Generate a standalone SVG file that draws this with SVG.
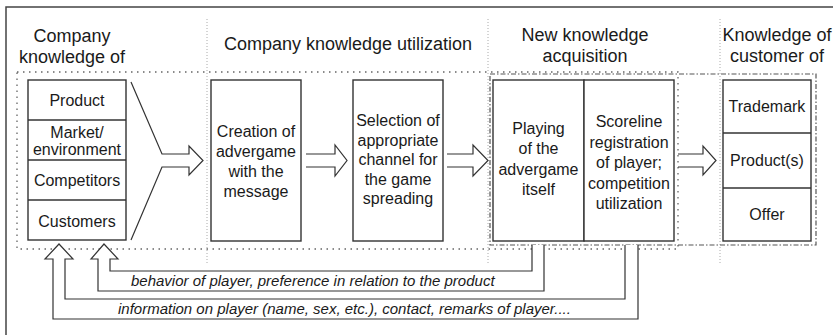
<svg xmlns="http://www.w3.org/2000/svg" width="833" height="335" viewBox="0 0 833 335">
  <style>
    .frame { fill: none; stroke: #444; stroke-width: 1.5; }
    .col { fill: none; stroke: #aaa; stroke-width: 1; stroke-dasharray: 1 2; }
    .dot { fill: none; stroke: #666; stroke-width: 1.3; stroke-dasharray: 1.5 4.5; }
    .dashdot { fill: none; stroke: #555; stroke-width: 1.2; stroke-dasharray: 5 2 1.5 2; }
    .box { fill: #fff; stroke: #333; stroke-width: 1.4; }
    .div { stroke: #333; stroke-width: 1.4; }
    .arrow { fill: #fff; stroke: #333; stroke-width: 1.2; stroke-linejoin: miter; }
    .open { fill: none; stroke: #333; stroke-width: 1.2; }
    .head { font-family: "Liberation Sans", Arial, sans-serif; font-size: 18px; fill: #1a1a1a; text-anchor: middle; }
    .lbl { font-family: "Liberation Sans", Arial, sans-serif; font-size: 16px; fill: #1a1a1a; text-anchor: middle; }
    .note { font-family: "Liberation Sans", Arial, sans-serif; font-size: 15px; font-style: italic; fill: #1a1a1a; }
  </style>

  <rect width="833" height="335" fill="#fff"/>
  <!-- outer frame -->
  <rect class="frame" x="6" y="7" width="900" height="400"/>

  <!-- column separators -->
  <g id="columns">
    <line class="col" x1="207" y1="19" x2="207" y2="265"/>
    <line class="col" x1="488" y1="19" x2="488" y2="265"/>
    <line class="col" x1="720" y1="19" x2="720" y2="265"/>
  </g>

  <!-- column headings -->
  <g id="headings">
    <text class="head" x="72" y="42">Company</text>
    <text class="head" x="72" y="63">knowledge of</text>
    <text class="head" x="348" y="50">Company knowledge utilization</text>
    <text class="head" x="585" y="41">New knowledge</text>
    <text class="head" x="585" y="62">acquisition</text>
    <text class="head" x="777" y="41">Knowledge of</text>
    <text class="head" x="777" y="62">customer of</text>
  </g>

  <!-- grouping frames -->
  <g id="frames">
    <rect class="dot" x="17" y="72" width="661" height="177"/>
    <rect class="dashdot" x="490" y="74" width="326" height="171"/>
  </g>

  <!-- company knowledge -->
  <g id="company-knowledge">
    <rect class="box" x="28" y="80" width="98" height="160"/>
    <line class="div" x1="28" y1="120" x2="126" y2="120"/>
    <line class="div" x1="28" y1="160" x2="126" y2="160"/>
    <line class="div" x1="28" y1="200" x2="126" y2="200"/>
    <text class="lbl" x="77" y="106">Product</text>
    <text class="lbl" x="77" y="138">Market/</text>
    <text class="lbl" x="77" y="155">environment</text>
    <text class="lbl" x="77" y="186">Competitors</text>
    <text class="lbl" x="77" y="226.5">Customers</text>
  </g>

  <!-- creation of advergame -->
  <g id="creation">
    <rect class="box" x="211" y="80" width="90" height="161"/>
    <text class="lbl" x="256" y="136.5">Creation of</text>
    <text class="lbl" x="256" y="156.5">advergame</text>
    <text class="lbl" x="256" y="176.5">with the</text>
    <text class="lbl" x="256" y="196.5">message</text>
  </g>

  <!-- channel selection -->
  <g id="selection">
    <rect class="box" x="353" y="80" width="90" height="161"/>
    <text class="lbl" x="398" y="126">Selection of</text>
    <text class="lbl" x="398" y="145.5">appropriate</text>
    <text class="lbl" x="398" y="165">channel for</text>
    <text class="lbl" x="398" y="184.5">the game</text>
    <text class="lbl" x="398" y="204">spreading</text>
  </g>

  <!-- playing -->
  <g id="playing">
    <rect class="box" x="493" y="80" width="91" height="161"/>
    <text class="lbl" x="538.5" y="133.5">Playing</text>
    <text class="lbl" x="538.5" y="154">of the</text>
    <text class="lbl" x="538.5" y="174.5">advergame</text>
    <text class="lbl" x="538.5" y="195">itself</text>
  </g>

  <!-- scoreline registration -->
  <g id="scoreline">
    <rect class="box" x="584" y="80" width="90" height="161"/>
    <text class="lbl" x="629" y="127">Scoreline</text>
    <text class="lbl" x="629" y="147.5">registration</text>
    <text class="lbl" x="629" y="168">of player;</text>
    <text class="lbl" x="629" y="188.5">competition</text>
    <text class="lbl" x="629" y="209">utilization</text>
  </g>

  <!-- customer knowledge -->
  <g id="customer-knowledge">
    <rect class="box" x="723" y="80" width="88" height="161"/>
    <line class="div" x1="723" y1="133" x2="811" y2="133"/>
    <line class="div" x1="723" y1="188" x2="811" y2="188"/>
    <text class="lbl" x="767" y="112">Trademark</text>
    <text class="lbl" x="767" y="166">Product(s)</text>
    <text class="lbl" x="767" y="220">Offer</text>
  </g>

  <!-- connectors -->
  <g id="connectors">
    <path class="open" d="M131,82 L162,154 H189 V146 L203,160.5 L189,175 V167 H162 L131,240"/>
    <path class="open" d="M306,154 H335 V145 L347,160.5 L335,176 V167 H306"/>
    <path class="open" d="M447,154 H473 V145 L488,160.5 L473,176 V167 H447"/>
    <path class="open" d="M678,154 H703 V146 L716,160.5 L703,175 V167 H678"/>
    <path class="arrow" d="M625,245 V299 H65 V259 H73 L59,244 L45,259 H53 V319 H638 V245"/>
    <path class="arrow" d="M532,245 V271 H110 V259 H118 L104,244 L91,259 H98 V291 H544 V245"/>
    <text class="note" x="131" y="286">behavior of player, preference in relation to the product</text>
    <text class="note" x="118" y="314">information on player (name, sex, etc.), contact, remarks of player....</text>
  </g>
</svg>
